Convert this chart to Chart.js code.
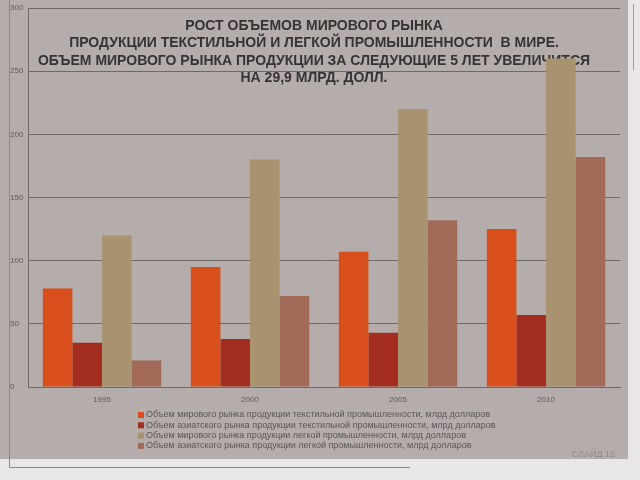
<!DOCTYPE html>
<html>
<head>
<meta charset="utf-8">
<script src="https://cdn.jsdelivr.net/npm/chart.js@4"></script>
<style>
  html, body { margin: 0; padding: 0; background: #e8e6e6; }
  #wrap { position: relative; width: 640px; height: 480px; }
</style>
</head>
<body>
<div id="wrap"><canvas id="chart" width="640" height="480"></canvas></div>
<script>
const years = ['1995', '2000', '2005', '2010'];
const worldTextile = [78, 95, 107, 125];
const asiaTextile = [35, 38, 43, 57];
const worldLight = [120, 180, 220, 260];
const asiaLight = [21, 72, 132, 182];
const seriesNames = [
    'Объем мирового рынка продукции текстильной промышленности, млрд долларов',
    'Объем азиатского рынка продукции текстильной промышленности, млрд долларов',
    'Объем мирового рынка продукции легкой промышленности, млрд долларов',
    'Объем азиатского рынка продукции легкой промышленности, млрд долларов'
];
const seriesColors = ['#d94f1c', '#a32e1f', '#a8926f', '#a26a58'];
const titleLines = [
    'РОСТ ОБЪЕМОВ МИРОВОГО РЫНКА',
    'ПРОДУКЦИИ ТЕКСТИЛЬНОЙ И ЛЕГКОЙ ПРОМЫШЛЕННОСТИ  В МИРЕ.',
    'ОБЪЕМ МИРОВОГО РЫНКА ПРОДУКЦИИ ЗА СЛЕДУЮЩИЕ 5 ЛЕТ УВЕЛИЧИТСЯ',
    'НА 29,9 МЛРД. ДОЛЛ.'
];
const slideLabel = 'СЛАЙД 15';

// slide background and frame
const slideBg = {
    id: 'slideBg',
    beforeDraw(chart) {
        const ctx = chart.ctx;
        ctx.save();
        ctx.fillStyle = '#b4adab';
        ctx.fillRect(0, 0, 628, 459);
        ctx.strokeStyle = '#8d8886';
        ctx.lineWidth = 1;
        ctx.beginPath();
        ctx.moveTo(9.5, 0);
        ctx.lineTo(9.5, 467.5);
        ctx.lineTo(410, 467.5);
        ctx.stroke();
        ctx.strokeStyle = '#a09b9a';
        ctx.beginPath();
        ctx.moveTo(633.5, 4);
        ctx.lineTo(633.5, 70);
        ctx.stroke();
        ctx.restore();
    }
};

// title sits over the plot, bars are drawn on top of it
const overlayTitle = {
    id: 'overlayTitle',
    beforeDatasetsDraw(chart) {
        const ctx = chart.ctx;
        ctx.save();
        ctx.fillStyle = '#363334';
        ctx.font = 'bold 14px "Liberation Sans", Arial, sans-serif';
        ctx.textAlign = 'center';
        ctx.textBaseline = 'middle';
        const ys = [26, 43, 61, 78];
        titleLines.forEach((t, i) => ctx.fillText(t, 314, ys[i]));
        ctx.restore();
    }
};

// left aligned legend under the axis
const bottomLegend = {
    id: 'bottomLegend',
    afterDraw(chart) {
        const ctx = chart.ctx;
        ctx.save();
        ctx.font = '9px "Liberation Sans", Arial, sans-serif';
        ctx.textBaseline = 'middle';
        chart.data.datasets.forEach((ds, i) => {
            const y = 415 + i * 10.3;
            ctx.fillStyle = ds.backgroundColor;
            ctx.fillRect(138, y - 3, 6, 6);
            ctx.fillStyle = '#5a5656';
            ctx.fillText(ds.label, 146, y);
        });
        ctx.fillStyle = '#8f8a89';
        ctx.textAlign = 'right';
        ctx.fillText(slideLabel, 615, 455);
        ctx.restore();
    }
};

const datasets = [worldTextile, asiaTextile, worldLight, asiaLight].map((vals, i) => ({
    label: seriesNames[i],
    data: vals,
    backgroundColor: seriesColors[i],
    borderWidth: 0,
    barPercentage: 1.0,
    categoryPercentage: 0.8
}));

const chart = new Chart(document.getElementById('chart'), {
    type: 'bar',
    data: { labels: years, datasets: datasets },
    options: {
        responsive: false,
        animation: false,
        layout: { padding: { left: 10, top: 8, right: 20, bottom: 73 } },
        plugins: {
            legend: { display: false },
            title: { display: false },
            tooltip: { enabled: false }
        },
        scales: {
            x: {
                grid: { display: false },
                border: { display: true, color: '#6e6967', width: 1 },
                ticks: {
                    color: '#5e5a59',
                    font: { size: 8, family: '"Liberation Sans", Arial, sans-serif' },
                    padding: 0
                },
                afterFit(scale) { scale.height = 20; }
            },
            y: {
                min: 0,
                max: 300,
                ticks: {
                    stepSize: 50,
                    color: '#5e5a59',
                    crossAlign: 'far',
                    font: { size: 8, family: '"Liberation Sans", Arial, sans-serif' }
                },
                grid: { color: '#6e6967', drawTicks: false, lineWidth: 1 },
                border: { display: true, color: '#6e6967', width: 1 },
                afterFit(scale) { scale.width = 18; }
            }
        }
    },
    plugins: [slideBg, overlayTitle, bottomLegend]
});
</script>
</body>
</html>
